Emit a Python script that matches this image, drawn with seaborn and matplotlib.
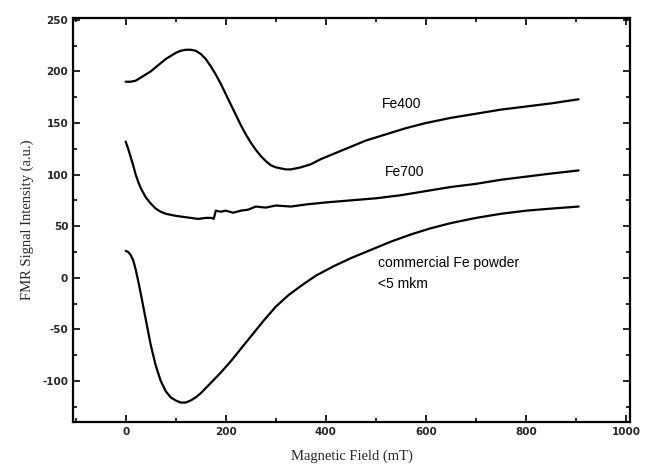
import numpy as np
import pandas as pd
import matplotlib
matplotlib.use("Agg")
import matplotlib.pyplot as plt
import seaborn as sns

# values
fe400_x = [0, 10, 20, 30, 40, 50, 60, 70, 80, 90, 100, 110, 120, 130, 140, 150, 160, 170, 180, 190,
           200, 210, 220, 230, 240, 250, 260, 270, 280, 290, 300, 310, 320, 330, 340, 350, 370, 390,
           420, 450, 480, 520, 560, 600, 650, 700, 750, 800, 850, 905]
fe400_y = [190, 190, 191, 194, 197, 200, 204, 208, 212, 215, 218, 220, 221, 221, 220, 217, 212, 205, 197, 188,
           178, 168, 158, 148, 139, 131, 124, 118, 113, 109, 107, 106, 105, 105, 106, 107, 110, 115,
           121, 127, 133, 139, 145, 150, 155, 159, 163, 166, 169, 173]

fe700_x = [0, 5, 10, 15, 20, 25, 30, 40, 50, 60, 70, 80, 90, 100, 115, 130, 145, 160, 172, 176, 180, 190,
           200, 215, 230, 245, 260, 280, 300, 330, 360, 400, 450, 500, 550, 600, 650, 700, 750, 800, 850, 905]
fe700_y = [132, 125, 117, 109, 100, 93, 87, 78, 72, 67, 64, 62, 61, 60, 59, 58, 57, 58, 58, 57, 65, 64,
           65, 63, 65, 66, 69, 68, 70, 69, 71, 73, 75, 77, 80, 84, 88, 91, 95, 98, 101, 104]

comm_x = [0, 5, 10, 15, 20, 25, 30, 40, 50, 60, 70, 80, 90, 100, 110, 120, 130, 140, 150, 170, 190, 210,
          230, 250, 275, 300, 325, 350, 380, 415, 450, 490, 530, 570, 610, 650, 700, 750, 800, 850, 905]
comm_y = [26, 25, 22, 17, 8, -3, -15, -40, -65, -85, -100, -110, -116, -119, -121, -121, -119, -116, -112, -102, -92, -81,
          -69, -57, -42, -28, -17, -8, 2, 11, 19, 27, 35, 42, 48, 53, 58, 62, 65, 67, 69]

series = {"Fe400": (fe400_x, fe400_y), "Fe700": (fe700_x, fe700_y), "commercial": (comm_x, comm_y)}

df = pd.concat([pd.DataFrame({"field": x, "signal": y, "sample": name})
                for name, (x, y) in series.items()], ignore_index=True)

sns.set_style("ticks")
plt.rcParams["axes.unicode_minus"] = False
fig = plt.figure(figsize=(6.47, 4.68), dpi=100)
ax = fig.add_axes([0.113, 0.098, 0.861, 0.864])

for name in series:
    sns.lineplot(data=df[df["sample"] == name], x="field", y="signal", sort=False,
                 color="black", linewidth=1.6, ax=ax, legend=False)

ax.set_xlim(-105, 1008)
ax.set_ylim(-140, 252)
ax.set_xticks(np.arange(0, 1001, 200))
ax.set_xticks(np.arange(-100, 1001, 100), minor=True)
ax.set_yticks(np.arange(-100, 251, 50))
ax.set_yticks(np.arange(-125, 251, 25), minor=True)
ax.tick_params(which="both", direction="in", top=True, right=True, width=1.2, color="black")
ax.tick_params(which="major", length=5, labelsize=7.5)
ax.tick_params(which="minor", length=3)
for lab in ax.get_xticklabels() + ax.get_yticklabels():
    lab.set_fontweight("bold")
for sp in ax.spines.values():
    sp.set_linewidth(1.6)
    sp.set_color("black")

ax.set_xlabel("Magnetic Field (mT)", family="Liberation Serif", fontsize=10.5, labelpad=9)
ax.set_ylabel("FMR Signal Intensity (a.u.)", family="Liberation Serif", fontsize=10.5, labelpad=6)

tf = dict(family="Liberation Sans", fontsize=10, color="black")
ax.text(512, 165, "Fe400", **tf)
ax.text(518, 99, "Fe700", **tf)
ax.text(505, 10, "commercial Fe powder", **tf)
ax.text(505, -10, "<5 mkm", **tf)

fig.savefig("out.png", dpi=100)
